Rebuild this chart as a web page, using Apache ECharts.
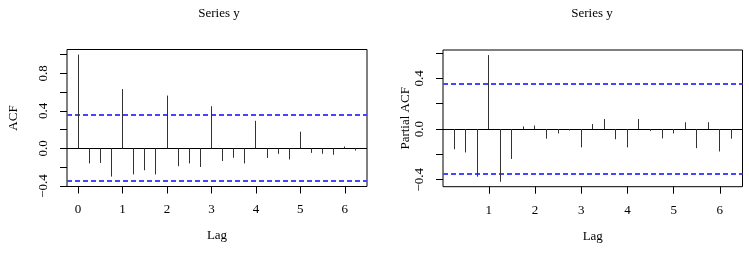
<!DOCTYPE html>
<html>
<head>
<meta charset="utf-8">
<script src="https://cdn.jsdelivr.net/npm/echarts@6/dist/echarts.min.js"></script>
<style>
  html, body { margin: 0; padding: 0; background: #fff; }
  #chart { width: 749px; height: 258px; }
</style>
</head>
<body>
<div id="chart"></div>
<script>
// lags in years (quarterly series, frequency 4)
const acfLags = [0, 0.25, 0.5, 0.75, 1, 1.25, 1.5, 1.75, 2, 2.25, 2.5, 2.75, 3,
  3.25, 3.5, 3.75, 4, 4.25, 4.5, 4.75, 5, 5.25, 5.5, 5.75, 6, 6.25];
const acfValues = [1.00, -0.16, -0.155, -0.30, 0.632, -0.277, -0.233, -0.277, 0.563,
  -0.19, -0.16, -0.198, 0.449, -0.135, -0.10, -0.16, 0.294, -0.102, -0.058, -0.118,
  0.178, -0.048, -0.057, -0.068, 0.02, -0.023];

const pacfLags = [0.25, 0.5, 0.75, 1, 1.25, 1.5, 1.75, 2, 2.25, 2.5, 2.75, 3,
  3.25, 3.5, 3.75, 4, 4.25, 4.5, 4.75, 5, 5.25, 5.5, 5.75, 6, 6.25];
const pacfValues = [-0.16, -0.185, -0.376, 0.583, -0.416, -0.236, 0.02, 0.027,
  -0.076, -0.035, -0.012, -0.145, 0.039, 0.079, -0.081, -0.145, 0.079, -0.016,
  -0.074, -0.035, 0.053, -0.151, 0.053, -0.177, -0.076];

// 95% bound, 1.96 / sqrt(n)
const ciBound = 0.352;
const ciLevels = [ciBound, -ciBound];
const zeroLevel = [0];

const lagTicks = [0, 1, 2, 3, 4, 5, 6];
const acfTicks = [-0.4, -0.2, 0, 0.2, 0.4, 0.6, 0.8, 1.0];
const acfTickLabels = [-0.4, 0, 0.4, 0.8];
const pacfTicks = [-0.4, -0.2, 0, 0.2, 0.4, 0.6];
const pacfTickLabels = [-0.4, 0, 0.4];

const font = '"Liberation Serif", "Times New Roman", serif';
const textStyle = { color: '#000', fontFamily: font, fontSize: 13 };

function fmt(v) {
  return (v < 0 ? '\u2212' : '') + Math.abs(v).toFixed(1);
}

function pairs(xs, ys) {
  return xs.map((x, i) => [x, ys[i]]);
}

// keep 1px lines on pixel centres so they stay crisp
function snap(v) {
  return Math.round(v - 0.5) + 0.5;
}

function spike(params, api) {
  const base = api.coord([api.value(0), 0]);
  const tip = api.coord([api.value(0), api.value(1)]);
  const x = snap(base[0]);
  return {
    type: 'line',
    shape: { x1: x, y1: base[1], x2: x, y2: tip[1] },
    style: { stroke: '#333', lineWidth: 1 }
  };
}

// full-width horizontal line at a y value (abline h=...)
function hline(stroke, width, dash) {
  return function (params, api) {
    const cs = params.coordSys;
    const raw = api.coord([0, api.value(0)])[1];
    const y = width === 1 ? snap(raw) : Math.round(raw);
    return {
      type: 'line',
      shape: { x1: cs.x, y1: y, x2: cs.x + cs.width, y2: y },
      style: { stroke: stroke, lineWidth: width, lineDash: dash }
    };
  };
}

function xAxis(idx, min, max, ticks) {
  return {
    type: 'value', gridIndex: idx, min: min, max: max,
    axisLine: { show: false, onZero: false },
    splitLine: { show: false },
    axisTick: { show: true, customValues: ticks, length: 7, lineStyle: { color: '#000' } },
    axisLabel: Object.assign({ customValues: ticks, margin: 17 }, textStyle),
    name: 'Lag', nameLocation: 'middle', nameGap: 43,
    nameTextStyle: textStyle
  };
}

function yAxis(idx, min, max, ticks, labels, name, gap) {
  return {
    type: 'value', gridIndex: idx, min: min, max: max,
    axisLine: { show: false, onZero: false },
    splitLine: { show: false },
    axisTick: { show: true, customValues: ticks, length: 7, lineStyle: { color: '#000' } },
    axisLabel: Object.assign({ customValues: labels, margin: 17, rotate: 90, formatter: fmt }, textStyle),
    name: name, nameLocation: 'middle', nameGap: gap,
    nameTextStyle: textStyle
  };
}

function panelSeries(idx, lags, values) {
  return [
    {
      type: 'custom', xAxisIndex: idx, yAxisIndex: idx, silent: true,
      renderItem: hline('#000', 1, null), data: zeroLevel.map(v => [v])
    },
    {
      type: 'custom', xAxisIndex: idx, yAxisIndex: idx, silent: true,
      renderItem: hline('#4646ff', 2, [5, 3]), data: ciLevels.map(v => [v])
    },
    {
      type: 'custom', xAxisIndex: idx, yAxisIndex: idx,
      renderItem: spike, data: pairs(lags, values)
    }
  ];
}

const chart = echarts.init(document.getElementById('chart'));
chart.setOption({
  animation: false,
  backgroundColor: '#fff',
  title: [
    { text: 'Series y', left: 214, top: 2, textAlign: 'center', textStyle: Object.assign({}, textStyle, { fontWeight: 'normal' }) },
    { text: 'Series y', left: 587, top: 2, textAlign: 'center', textStyle: Object.assign({}, textStyle, { fontWeight: 'normal' }) }
  ],
  grid: [
    { left: 67, top: 49.5, width: 300, height: 137, show: true, borderColor: '#000', borderWidth: 1 },
    { left: 443, top: 50, width: 299.5, height: 136.7, show: true, borderColor: '#000', borderWidth: 1 }
  ],
  xAxis: [
    xAxis(0, -0.25, 6.5, lagTicks),
    xAxis(1, 0.01, 6.49, lagTicks.slice(1))
  ],
  yAxis: [
    yAxis(0, -0.406, 1.054, acfTicks, acfTickLabels, 'ACF', 47),
    yAxis(1, -0.455, 0.623, pacfTicks, pacfTickLabels, 'Partial ACF', 29)
  ],
  series: panelSeries(0, acfLags, acfValues).concat(panelSeries(1, pacfLags, pacfValues))
});
</script>
</body>
</html>
